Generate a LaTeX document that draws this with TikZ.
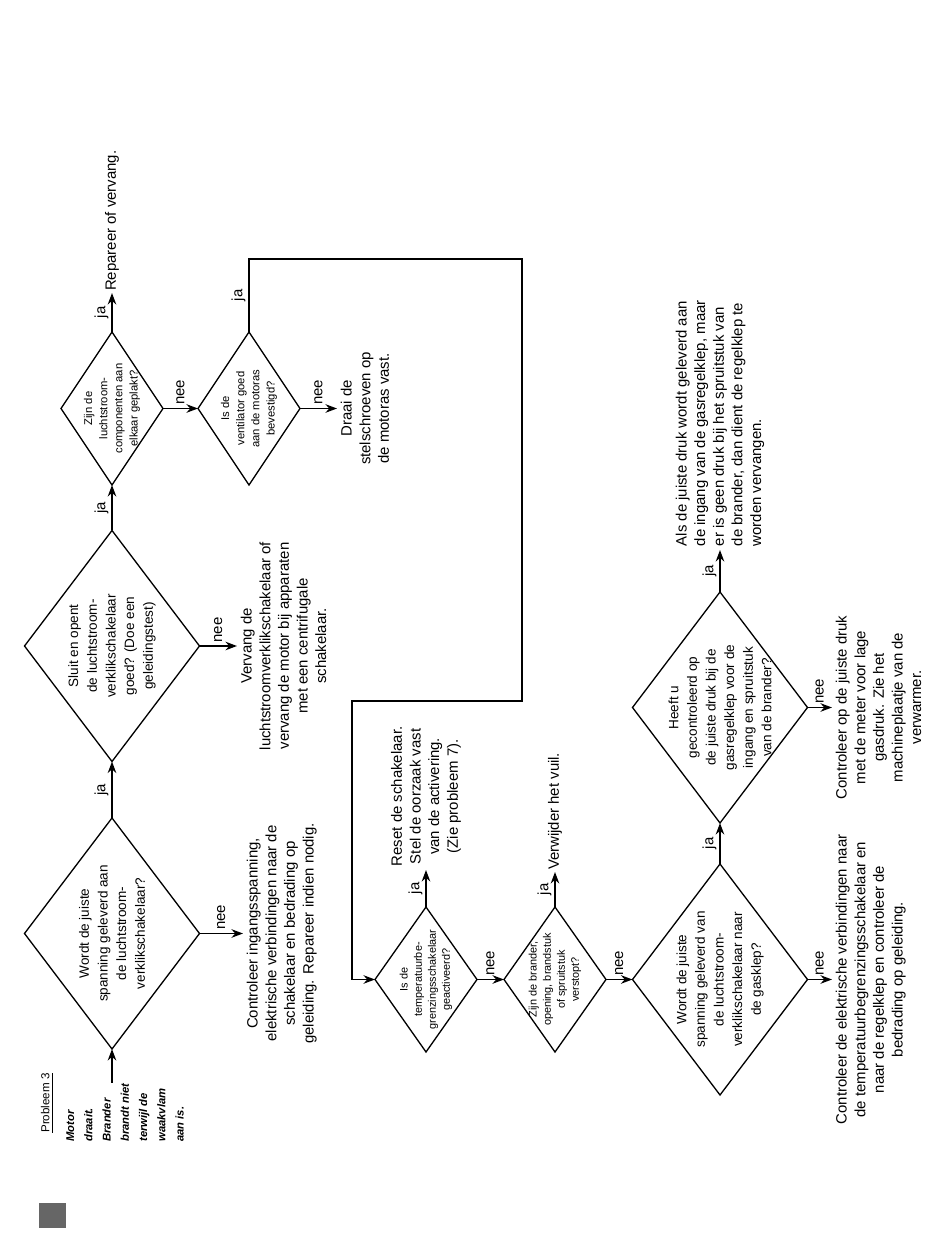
\documentclass[tikz,border=0pt]{standalone}
\usepackage{fontspec}
\setmainfont{Liberation Sans}
\usetikzlibrary{shapes.geometric, arrows.meta}

\begin{document}
\begin{tikzpicture}[rotate=90, transform shape, line join=miter,
	vraag/.style={draw, diamond, line width=0.75pt, inner sep=-0.7cm, outer sep=0pt, align=center},
	groot/.style={vraag, minimum width=4.62cm, minimum height=3.5cm, font=\fontsize{7.7}{10.6}\selectfont},
	klein/.style={vraag, minimum width=3.06cm, minimum height=2.04cm, font=\fontsize{6.4}{8.6}\selectfont},
	mini/.style={vraag, minimum width=2.9cm, minimum height=2.04cm, font=\fontsize{6.2}{8}\selectfont},
	tekst/.style={align=center, inner sep=2pt, font=\fontsize{8.5}{10.6}\selectfont},
	lbl/.style={inner sep=1.5pt, font=\fontsize{8.5}{10}\selectfont},
	pijl/.style={-{Stealth[length=2.3mm, width=1.7mm]}, line width=1.1pt}]
	\useasboundingbox (0,0) rectangle (24.82,-19);
	
	% Probleem 3
	\fill[black!60] (0.26,-0.78) rectangle (0.76,-1.32);
	\node[anchor=west, inner sep=0pt, font=\fontsize{6.6}{8}\selectfont] (titel) at (2.16,-0.94) {\underline{Probleem 3}};
	\node[anchor=north west, align=left, inner sep=0pt, font=\fontsize{6.4}{10.4}\selectfont\bfseries\itshape] (oorzaak) at (1.98,-1.32) {Motor\\ draait.\\ Brander\\ brandt niet\\ terwijl de\\ waakvlam\\ aan is.};
	\coordinate (start) at (3.16,-2.24);
	
	% Vragen
	\node[groot] (d1) at (6.15,-2.24) {Wordt de juiste\\ spanning geleverd aan\\ de luchtstroom-\\ verklikschakelaar?};
	\node[groot] (d2) at (11.90,-2.24) {Sluit en opent\\ de luchtstroom-\\ verklikschakelaar\\ goed? (Doe een\\ geleidingstest)};
	\node[klein] (d3) at (16.65,-2.24) {Zijn de\\ luchtstroom-\\ componenten aan\\ elkaar geplakt?};
	\node[klein] (d4) at (16.65,-4.98) {Is de\\ ventilator goed\\ aan de motoras\\ bevestigd?};
	\node[mini] (d5) at (5.23,-8.52) {Is de\\ temperatuurbe-\\ grenzingsschakelaar\\ geactiveerd?};
	\node[mini] (d6) at (5.23,-11.10) {Zijn de brander,\\ opening, brandstuk\\ of spruitstuk\\ verstopt?};
	\node[groot] (d7) at (5.23,-14.40) {Wordt de juiste\\ spanning geleverd van\\ de luchtstroom-\\ verklikschakelaar naar\\ de gasklep?};
	\node[groot] (d8) at (10.67,-14.40) {Heeft u\\ gecontroleerd op\\ de juiste druk bij de\\ gasregelklep voor de\\ ingang en spruitstuk\\ van de brander?};
	
	% Oplossingen
	\node[tekst, anchor=north] (n1) at (6.15,-4.86) {Controleer ingangsspanning,\\ elektrische verbindingen naar de\\ schakelaar en bedrading op\\ geleiding. Repareer indien nodig.};
	\node[tekst, anchor=north] (n2) at (11.90,-4.74) {Vervang de\\ luchtstroomverklikschakelaar of\\ vervang de motor bij apparaten\\ met een centrifugale\\ schakelaar.};
	\node[tekst, anchor=west, inner sep=1pt] (n3) at (18.96,-2.24) {Repareer of vervang.};
	\node[tekst, anchor=north] (n4) at (16.65,-6.74) {Draai de\\ stelschroeven op\\ de motoras vast.};
	\node[tekst, anchor=west] (n5) at (7.42,-8.52) {Reset de schakelaar.\\ Stel de oorzaak vast\\ van de activering.\\ (Zie probleem 7).};
	\node[tekst, anchor=west, inner sep=1pt] (n6) at (7.38,-11.10) {Verwijder het vuil.};
	\node[tekst, anchor=west, align=left] (n7) at (13.82,-14.40) {Als de juiste druk wordt geleverd aan\\ de ingang van de gasregelklep, maar\\ er is geen druk bij het spruitstuk van\\ de brander, dan dient de regelklep te\\ worden vervangen.};
	\node[tekst, anchor=north] (n8) at (10.67,-16.64) {Controleer op de juiste druk\\ met de meter voor lage\\ gasdruk. Zie het\\ machineplaatje van de\\ verwarmer.};
	\node[tekst, anchor=north] (n9) at (5.23,-16.64) {Controleer de elektrische verbindingen naar\\ de temperatuurbegrenzingsschakelaar en\\ naar de regelklep en controleer de\\ bedrading op geleiding.};
	
	% Pijlen
	\draw[pijl] (start) -- (d1.west);
	\draw[pijl] (d1.east) -- node[lbl, above]{ja} (d2.west);
	\draw[pijl] (d1.south) -- node[lbl, right]{nee} (n1.north);
	\draw[pijl] (d2.east) -- node[lbl, above]{ja} (d3.west);
	\draw[pijl] (d2.south) -- node[lbl, right]{nee} (n2.north);
	\draw[pijl] (d3.east) -- node[lbl, above]{ja} (n3.west);
	\draw[pijl] (d3.south) -- node[lbl, right]{nee} (d4.north);
	\draw[pijl] (d4.south) -- node[lbl, right]{nee} (n4.north);
	\draw[pijl] (d4.east) -- node[lbl, above]{ja} (19.64,-4.98) -- (19.64,-10.44) -- (10.80,-10.44) -- (10.80,-7.04) -| (d5.north);
	\draw[pijl] (d5.east) -- node[lbl, above]{ja} (n5.west);
	\draw[pijl] (d5.south) -- node[lbl, right]{nee} (d6.north);
	\draw[pijl] (d6.east) -- node[lbl, above]{ja} (n6.west);
	\draw[pijl] (d6.south) -- node[lbl, right]{nee} (d7.north);
	\draw[pijl] (d7.east) -- node[lbl, above]{ja} (d8.west);
	\draw[pijl] (d7.south) -- node[lbl, right]{nee} (n9.north);
	\draw[pijl] (d8.east) -- node[lbl, above]{ja} (n7.west);
	\draw[pijl] (d8.south) -- node[lbl, right]{nee} (n8.north);
\end{tikzpicture}
\end{document}
